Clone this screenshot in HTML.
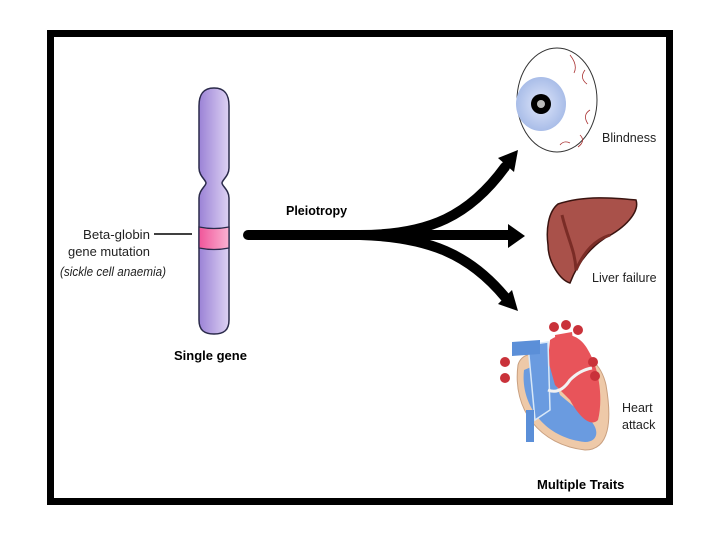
<!DOCTYPE html>
<html><head><meta charset="utf-8"><style>
html,body{margin:0;padding:0;background:#fff;}
svg{display:block;}
text{font-family:"Liberation Sans",sans-serif;}
</style></head><body>
<svg width="720" height="540" viewBox="0 0 720 540">
<defs>
<linearGradient id="chr" x1="0" x2="1"><stop offset="0" stop-color="#9b82d6"/><stop offset="1" stop-color="#ddd2f3"/></linearGradient>
<linearGradient id="pk" x1="0" x2="1"><stop offset="0" stop-color="#f0559a"/><stop offset="1" stop-color="#fbb3d2"/></linearGradient>
<radialGradient id="iris"><stop offset="0" stop-color="#dfe6fa"/><stop offset="1" stop-color="#a9bde8"/></radialGradient>
</defs>
<rect x="50.5" y="33.5" width="619" height="468" fill="none" stroke="#000" stroke-width="7"/>
<!-- chromosome -->
<path d="M214,88 C226,88 229,96 229,106 L229,168 C229,176 222,180 222,183 C222,186 229,190 229,198 L229,320 C229,330 224,334 214,334 C204,334 199,330 199,320 L199,198 C199,190 206,186 206,183 C206,180 199,176 199,168 L199,106 C199,96 202,88 214,88 Z" fill="url(#chr)" stroke="#2a2a4a" stroke-width="1.5"/>
<path d="M199,227 Q214,230 229,227 L229,248 Q214,251 199,248 Z" fill="url(#pk)" stroke="#2a2a4a" stroke-width="1.3"/>
<line x1="154" y1="234" x2="192" y2="234" stroke="#000" stroke-width="1.5"/>
<text x="150" y="239" font-size="12.5" text-anchor="end" fill="#222" textLength="67" lengthAdjust="spacingAndGlyphs">Beta-globin</text>
<text x="150" y="256" font-size="12.5" text-anchor="end" fill="#222" textLength="82" lengthAdjust="spacingAndGlyphs">gene mutation</text>
<text x="60" y="276" font-size="12.5" font-style="italic" fill="#222" textLength="106" lengthAdjust="spacingAndGlyphs">(sickle cell anaemia)</text>
<text x="174" y="360" font-size="13" font-weight="bold">Single gene</text>
<text x="286" y="215" font-size="12.5" font-weight="bold">Pleiotropy</text>
<!-- arrows -->
<g fill="none" stroke="#000" stroke-width="10" stroke-linecap="round">
<line x1="248" y1="235" x2="510" y2="235"/>
<path d="M360,235 C430,235 470,215 505,167"/>
<path d="M360,235 C430,237 470,255 505,297"/>
</g>
<polygon points="508,224 525,236 508,248" fill="#000"/>
<polygon points="498,158 518,150 514,172" fill="#000"/>
<polygon points="498,304 518,311 512,290" fill="#000"/>
<!-- eye -->
<ellipse cx="557" cy="100" rx="40" ry="52" fill="#fff" stroke="#333" stroke-width="1"/>
<path d="M570,55 q8,10 4,18 M585,70 q-6,8 2,14 M590,110 q-8,5 -2,14 M580,135 q6,6 -2,12 M560,145 q4,-5 10,-2" fill="none" stroke="#a33" stroke-width="0.8"/>
<ellipse cx="541" cy="104" rx="25" ry="27" fill="url(#iris)"/>
<circle cx="541" cy="104" r="10" fill="#000"/>
<circle cx="541" cy="104" r="4" fill="#bbb"/>
<text x="602" y="142" font-size="12.5" fill="#222">Blindness</text>
<!-- liver -->
<path d="M558,204 C585,195 615,198 636,200 C640,212 625,228 605,238 C590,248 578,262 570,283 C560,280 548,262 548,245 C546,230 548,212 558,204 Z" fill="#a9514a" stroke="#3a1410" stroke-width="1.5"/>
<path d="M562,215 C568,240 575,250 576,270 C585,250 595,240 610,235" fill="none" stroke="#7a2c26" stroke-width="3"/>
<text x="592" y="282" font-size="12.5" fill="#222">Liver failure</text>
<!-- heart -->
<path d="M518,365 C512,410 540,445 585,450 C610,450 612,420 606,385 C600,358 580,350 560,352 C540,354 522,350 518,365 Z" fill="#eec9a8" stroke="#c9a080"/>
<path d="M524,370 C520,405 545,438 585,442 C598,442 600,430 590,420 L560,395 L548,360 Z" fill="#6a9be0"/>
<path d="M550,340 C565,330 580,335 588,350 C600,370 603,400 598,420 C590,428 578,415 570,400 L555,385 L548,360 Z" fill="#e8545a"/>
<path d="M528,345 L548,342 L550,410 L535,420 Z" fill="#6a9be0" stroke="#d8e8f8" stroke-width="1.5"/>
<path d="M512,342 L540,340 L540,354 L512,356 Z" fill="#5b8fd8"/>
<path d="M555,335 L572,332 L574,350 L556,352 Z" fill="#e8545a"/>
<rect x="526" y="410" width="8" height="32" fill="#5b8fd8"/>
<path d="M548,390 Q560,395 570,380 Q580,370 592,368" fill="none" stroke="#f2f2f2" stroke-width="3"/>
<circle cx="554" cy="327" r="5" fill="#c9323a"/><circle cx="566" cy="325" r="5" fill="#c9323a"/><circle cx="578" cy="330" r="5" fill="#c9323a"/>
<circle cx="593" cy="362" r="5" fill="#c9323a"/><circle cx="595" cy="376" r="5" fill="#c9323a"/>
<circle cx="505" cy="362" r="5" fill="#c9323a"/><circle cx="505" cy="378" r="5" fill="#c9323a"/>
<text x="622" y="412" font-size="12.5" fill="#222">Heart</text>
<text x="622" y="429" font-size="12.5" fill="#222">attack</text>
<text x="537" y="489" font-size="13" font-weight="bold">Multiple Traits</text>
</svg>
</body></html>
